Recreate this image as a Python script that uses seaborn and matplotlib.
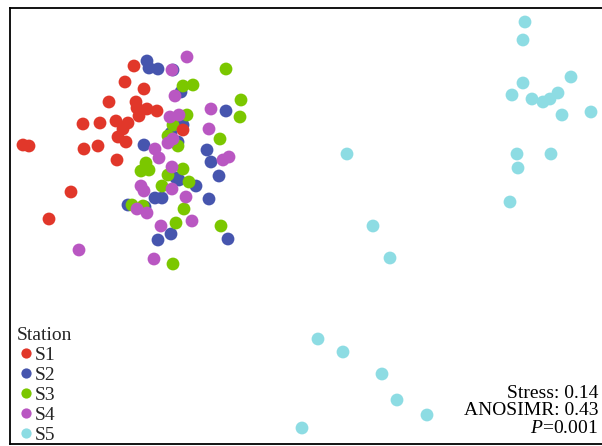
import matplotlib
matplotlib.use("Agg")
import matplotlib.pyplot as plt
import pandas as pd
import seaborn as sns

sns.set_theme(style="white")
plt.rcParams["font.family"] = ["Liberation Serif", "DejaVu Serif"]
plt.rcParams["mathtext.fontset"] = "custom"
plt.rcParams["mathtext.rm"] = "Liberation Serif"
plt.rcParams["mathtext.it"] = "Liberation Serif:italic"

stations = ["S1", "S2", "S3", "S4", "S5"]
colors = ["#E1372A", "#4655AE", "#7BC700", "#B957C2", "#8DDCE3"]

# NMDS ordination scores per station
s1_x = [-1.385, -1.355, -0.83, -0.875, -0.78, -0.955, -0.82, -0.815, -0.765, -0.715,
        -1.085, -1.0, -0.92, -0.86, -0.805, -0.885, -0.91, -0.87, -0.585, -1.08,
        -1.01, -0.915, -1.145, -1.255]
s1_y = [0.425, 0.42, 0.82, 0.74, 0.705, 0.64, 0.64, 0.61, 0.605, 0.595,
        0.53, 0.535, 0.545, 0.535, 0.57, 0.505, 0.465, 0.44, 0.5, 0.405,
        0.42, 0.35, 0.19, 0.055]

s2_x = [-0.765, -0.755, -0.71, -0.635, -0.595, -0.585, -0.645, -0.61, -0.78, -0.37,
        -0.465, -0.445, -0.405, -0.62, -0.605, -0.52, -0.725, -0.69, -0.455, -0.86,
        -0.775, -0.645, -0.71, -0.36]
s2_y = [0.845, 0.81, 0.805, 0.80, 0.69, 0.525, 0.485, 0.44, 0.425, 0.595,
        0.40, 0.34, 0.27, 0.26, 0.25, 0.22, 0.16, 0.16, 0.155, 0.125,
        0.115, -0.02, -0.05, -0.045]

s3_x = [-0.37, -0.585, -0.535, -0.295, -0.30, -0.565, -0.635, -0.66, -0.61, -0.40,
        -0.77, -0.795, -0.755, -0.585, -0.66, -0.555, -0.69, -0.84, -0.785, -0.58,
        -0.62, -0.395, -0.635]
s3_y = [0.805, 0.72, 0.725, 0.65, 0.565, 0.575, 0.525, 0.47, 0.42, 0.455,
        0.335, 0.295, 0.30, 0.305, 0.275, 0.24, 0.22, 0.125, 0.12, 0.105,
        0.035, 0.02, -0.17]

s4_x = [-0.565, -0.64, -0.625, -0.445, -0.65, -0.605, -0.455, -0.635, -0.66, -0.725,
        -0.705, -0.385, -0.355, -0.64, -0.795, -0.78, -0.64, -0.57, -0.815, -0.765,
        -0.695, -0.54, -1.105, -0.73]
s4_y = [0.865, 0.80, 0.67, 0.605, 0.565, 0.575, 0.505, 0.455, 0.435, 0.405,
        0.36, 0.35, 0.365, 0.315, 0.22, 0.195, 0.205, 0.165, 0.105, 0.085,
        0.02, 0.045, -0.10, -0.145]

s5_x = [1.125, 1.115, 1.355, 1.115, 1.06, 1.16, 1.215, 1.25, 1.29, 1.31,
        1.455, 0.235, 1.085, 1.255, 1.09, 1.05, 0.365, 0.45, 0.09, 0.215,
        0.41, 0.485, 0.635, 0.01]
s5_y = [1.04, 0.95, 0.765, 0.735, 0.675, 0.655, 0.64, 0.655, 0.685, 0.575,
        0.59, 0.38, 0.38, 0.38, 0.31, 0.14, 0.02, -0.14, -0.545, -0.61,
        -0.72, -0.85, -0.925, -0.99]

stress_text = "Stress: 0.14"
anosim_text = "ANOSIMR: 0.43"
p_text = r"$P$=0.001"

series = {
    "S1": (s1_x, s1_y),
    "S2": (s2_x, s2_y),
    "S3": (s3_x, s3_y),
    "S4": (s4_x, s4_y),
    "S5": (s5_x, s5_y),
}
draw_order = ["S2", "S3", "S4", "S1", "S5"]
df = pd.concat(
    [pd.DataFrame({"NMDS1": series[k][0], "NMDS2": series[k][1], "Station": k})
     for k in draw_order],
    ignore_index=True,
)

fig = plt.figure(figsize=(6.02, 4.46), dpi=100)
ax = fig.add_axes([10 / 602, 2 / 446, 593 / 602, 436 / 446])

sns.scatterplot(
    data=df, x="NMDS1", y="NMDS2", hue="Station", hue_order=stations,
    palette=dict(zip(stations, colors)), s=85, linewidth=0, ax=ax,
)

ax.set_xlim(-1.45, 1.515)
ax.set_ylim(-1.07, 1.11)
ax.set_xticks([])
ax.set_yticks([])
ax.set_xlabel("")
ax.set_ylabel("")
for sp in ax.spines.values():
    sp.set_linewidth(1.3)
    sp.set_color("black")

handles, labels = ax.get_legend_handles_labels()
leg = ax.legend(
    handles, labels, title="Station", loc="lower left", frameon=False,
    bbox_to_anchor=(0.011, 0.0), borderaxespad=0.0, borderpad=0.0,
    fontsize=14, title_fontsize=14, handletextpad=0.0, labelspacing=0.12,
    markerscale=0.8, handlelength=0.95, alignment="left",
)
leg.set_clip_on(False)

for y, txt in [(0.116, stress_text), (0.076, anosim_text), (0.035, p_text)]:
    ax.text(0.9916, y, txt, transform=ax.transAxes, ha="right", va="center",
            fontsize=14, color="black")

fig.savefig("out.png", dpi=100)
